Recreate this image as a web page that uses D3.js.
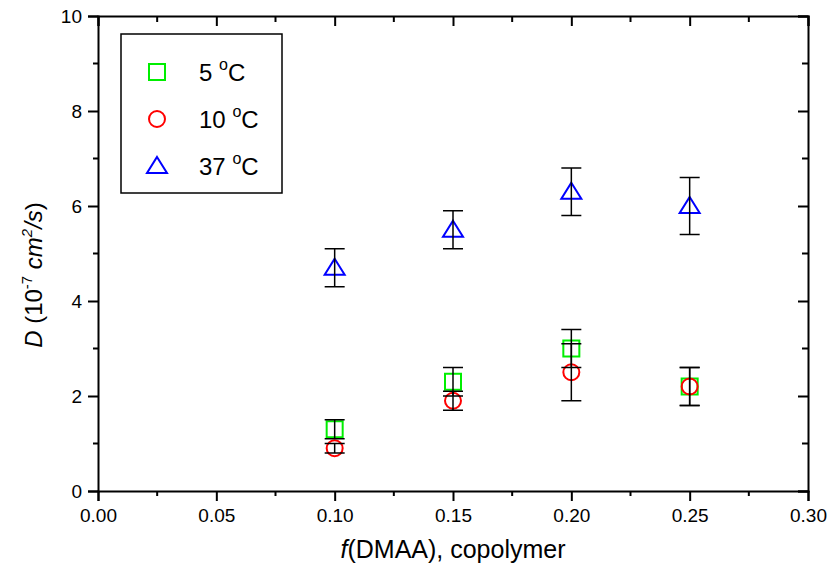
<!DOCTYPE html>
<html>
<head>
<meta charset="utf-8">
<script src="https://cdn.jsdelivr.net/npm/d3@7"></script>
<style>
  body { margin: 0; background: #fff; }
  svg text { font-family: Arial, "Liberation Sans", sans-serif; fill: #000; }
</style>
</head>
<body>
<svg id="chart" width="830" height="574"></svg>
<script>
// copolymer fraction on x, diffusion coefficient D (1e-7 cm^2/s) on y
const fractions = [0.10, 0.15, 0.20, 0.25];
const d5 = [1.3, 2.3, 3.0, 2.2];
const err5 = [0.2, 0.3, 0.4, 0.4];
const d10 = [0.9, 1.9, 2.5, 2.2];
const err10 = [0.1, 0.2, 0.6, 0.4];
const d37 = [4.7, 5.5, 6.3, 6.0];
const err37 = [0.4, 0.4, 0.5, 0.6];

const xTicks = [0, 0.05, 0.10, 0.15, 0.20, 0.25, 0.30];
const yTicks = [0, 2, 4, 6, 8, 10];
const xMinor = [0.025, 0.075, 0.125, 0.175, 0.225, 0.275];
const yMinor = [1, 3, 5, 7, 9];

const margin = { top: 16, right: 22, bottom: 83, left: 98 };
const width = 830;
const height = 574;
const innerWidth = width - margin.left - margin.right;
const innerHeight = height - margin.top - margin.bottom;

const series = [
    { label: "5", values: d5, errors: err5, color: "#00ee00", shape: "square" },
    { label: "10", values: d10, errors: err10, color: "#ff0000", shape: "circle" },
    { label: "37", values: d37, errors: err37, color: "#0000ff", shape: "triangle" }
];

const svg = d3.select("#chart");
const g = svg.append("g").attr("transform", `translate(${margin.left},${margin.top})`);

const x = d3.scaleLinear().domain([0, 0.30]).range([0, innerWidth]);
const y = d3.scaleLinear().domain([0, 10]).range([innerHeight, 0]);

// draws one hollow marker centred at (cx, cy)
function drawMarker(sel, shape, cx, cy, color) {
    if (shape === "square") {
        sel.append("rect")
            .attr("x", cx - 8).attr("y", cy - 8)
            .attr("width", 16).attr("height", 16)
            .attr("fill", "none").attr("stroke", color).attr("stroke-width", 2);
    } else if (shape === "circle") {
        sel.append("circle")
            .attr("cx", cx).attr("cy", cy).attr("r", 8)
            .attr("fill", "none").attr("stroke", color).attr("stroke-width", 2);
    } else {
        sel.append("path")
            .attr("d", `M${cx},${cy - 9}L${cx + 10},${cy + 7}L${cx - 10},${cy + 7}Z`)
            .attr("fill", "none").attr("stroke", color).attr("stroke-width", 2)
            .attr("stroke-linejoin", "miter");
    }
}

// axes: outward ticks on bottom/left, inward on top/right
const tickFmt = d3.format(".2f");
const axisBottomG = g.append("g")
    .attr("transform", `translate(0,${innerHeight})`)
    .call(d3.axisBottom(x).tickValues(xTicks).tickFormat(tickFmt).tickSize(10).tickPadding(8));
axisBottomG.append("g").selectAll("line").data(xMinor).enter().append("line")
    .attr("x1", d => x(d)).attr("x2", d => x(d)).attr("y1", 0).attr("y2", 5);

const axisLeftG = g.append("g")
    .call(d3.axisLeft(y).tickValues(yTicks).tickFormat(d3.format("d")).tickSize(10).tickPadding(6));
axisLeftG.append("g").selectAll("line").data(yMinor).enter().append("line")
    .attr("y1", d => y(d)).attr("y2", d => y(d)).attr("x1", 0).attr("x2", -5);

const axisTopG = g.append("g")
    .call(d3.axisTop(x).tickValues(xTicks).tickFormat("").tickSize(-10));
axisTopG.append("g").selectAll("line").data(xMinor).enter().append("line")
    .attr("x1", d => x(d)).attr("x2", d => x(d)).attr("y1", 0).attr("y2", 6);

const axisRightG = g.append("g")
    .attr("transform", `translate(${innerWidth},0)`)
    .call(d3.axisRight(y).tickValues(yTicks).tickFormat("").tickSize(-10));
axisRightG.append("g").selectAll("line").data(yMinor).enter().append("line")
    .attr("y1", d => y(d)).attr("y2", d => y(d)).attr("x1", 0).attr("x2", -6);

[axisBottomG, axisLeftG, axisTopG, axisRightG].forEach(a => {
    a.selectAll(".domain").attr("stroke", "#000").attr("stroke-width", 2);
    a.selectAll("line").attr("stroke", "#000").attr("stroke-width", 2);
    a.selectAll(".tick text").style("font-size", "19px").attr("fill", "#000");
});

// markers then error bars
series.forEach(s => {
    const layer = g.append("g");
    fractions.forEach((f, i) => drawMarker(layer, s.shape, x(f), y(s.values[i]), s.color));
});

series.forEach(s => {
    const bars = g.append("g").attr("stroke", "#000").attr("stroke-width", 1.5);
    fractions.forEach((f, i) => {
        const cx = x(f);
        const lo = y(s.values[i] - s.errors[i]);
        const hi = y(s.values[i] + s.errors[i]);
        bars.append("line").attr("x1", cx).attr("x2", cx).attr("y1", lo).attr("y2", hi);
        bars.append("line").attr("x1", cx - 10).attr("x2", cx + 10).attr("y1", lo).attr("y2", lo);
        bars.append("line").attr("x1", cx - 10).attr("x2", cx + 10).attr("y1", hi).attr("y2", hi);
    });
});

// legend
const legend = g.append("g").attr("transform", "translate(23,18)");
legend.append("rect")
    .attr("width", 161).attr("height", 159)
    .attr("fill", "#fff").attr("stroke", "#000").attr("stroke-width", 1.5);
series.forEach((s, i) => {
    const ly = 38 + i * 47;
    drawMarker(legend, s.shape, 36, ly, s.color);
    const t = legend.append("text")
        .attr("x", 78).attr("y", ly + 9)
        .style("font-size", "24px");
    t.append("tspan").text(s.label + " ");
    t.append("tspan").attr("dy", -11).style("font-size", "16px").text("o");
    t.append("tspan").attr("dy", 11).text("C");
});

// axis titles
const xTitle = svg.append("text")
    .attr("x", margin.left + innerWidth / 2)
    .attr("y", 558)
    .attr("text-anchor", "middle")
    .style("font-size", "25px");
xTitle.append("tspan").style("font-style", "italic").text("f");
xTitle.append("tspan").text("(DMAA), copolymer");

const yTitle = svg.append("text")
    .attr("transform", "translate(42,275) rotate(-90)")
    .attr("text-anchor", "middle")
    .style("font-size", "24px");
yTitle.append("tspan").style("font-style", "italic").text("D");
yTitle.append("tspan").text(" (10");
yTitle.append("tspan").attr("dy", -10).style("font-size", "15px").text("-7");
yTitle.append("tspan").attr("dy", 10).style("font-style", "italic").text(" cm");
yTitle.append("tspan").attr("dy", -10).style("font-size", "15px").style("font-style", "italic").text("2");
yTitle.append("tspan").attr("dy", 10).style("font-style", "italic").text("/s");
yTitle.append("tspan").text(")");
</script>
</body>
</html>
